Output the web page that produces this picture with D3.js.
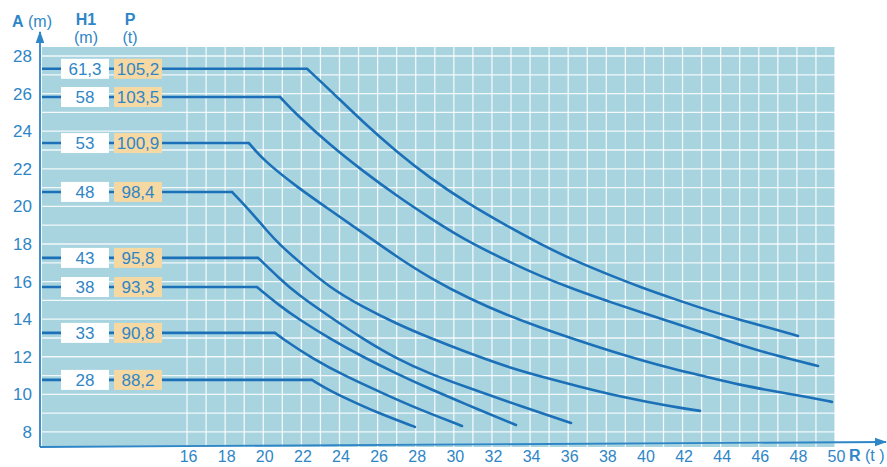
<!DOCTYPE html>
<html><head><meta charset="utf-8">
<script src="https://cdn.jsdelivr.net/npm/d3@7"></script>
<style>
body{margin:0;background:#fff}
svg{display:block}
text{font-family:"Liberation Sans",Arial,sans-serif}
</style>
</head><body>
<svg id="c" width="887" height="467"></svg>
<script>
// ---- data ----
const h1Labels = ["61,3", "58", "53", "48", "43", "38", "33", "28"];
const pLabels  = ["105,2", "103,5", "100,9", "98,4", "95,8", "93,3", "90,8", "88,2"];

// [R (t), A (m)] – first point = end of the flat part
const curve1 = [[22.30,27.32],[23.50,26.19],[25.23,24.49],[27.02,22.89],[28.75,21.51],[30.69,20.18],[32.79,18.96],[34.52,18.00],[36.25,17.15],[38.04,16.40],[39.77,15.71],[41.87,14.97],[43.28,14.49],[45.01,13.96],[46.75,13.48],[48.06,13.11]];
const curve2 = [[20.88,25.82],[21.77,24.86],[23.50,23.27],[25.23,21.88],[27.02,20.55],[28.75,19.38],[30.48,18.27],[32.79,17.10],[34.52,16.30],[36.25,15.61],[38.04,14.97],[39.77,14.38],[41.87,13.69],[43.28,13.21],[45.01,12.63],[46.75,12.10],[49.11,11.51]];
const curve3 = [[19.25,23.37],[19.99,22.47],[21.77,21.03],[23.50,19.81],[25.23,18.59],[27.02,17.31],[28.75,16.19],[30.85,15.07],[32.79,14.22],[34.52,13.56],[36.25,12.95],[38.04,12.36],[39.77,11.83],[41.50,11.35],[43.28,10.93],[45.01,10.50],[46.75,10.18],[48.53,9.86],[49.84,9.60]];
const curve4 = [[18.36,20.77],[19.31,19.76],[20.20,18.69],[20.88,17.95],[21.77,17.15],[23.50,15.66],[25.23,14.65],[27.02,13.74],[28.75,13.00],[30.48,12.31],[33.10,11.35],[34.89,10.87],[36.62,10.39],[38.35,9.97],[40.13,9.60],[41.87,9.28],[42.92,9.12]];
const curve5 = [[19.73,17.26],[20.88,16.14],[21.77,15.34],[23.50,14.12],[25.23,12.95],[27.02,11.88],[28.75,11.09],[30.48,10.45],[33.31,9.44],[36.15,8.48]];
const curve6 = [[19.67,15.71],[20.88,14.70],[21.77,14.06],[23.50,12.95],[25.23,11.99],[27.02,11.09],[28.75,10.29],[30.48,9.54],[33.26,8.37]];
const curve7 = [[20.62,13.27],[20.88,13.05],[22.61,11.88],[24.39,10.93],[26.13,10.13],[27.86,9.33],[30.43,8.32]];
const curve8 = [[22.56,10.77],[23.40,10.25],[24.39,9.76],[26.13,8.96],[27.96,8.27]];
const curves = [curve1, curve2, curve3, curve4, curve5, curve6, curve7, curve8];

const xTicks = d3.range(16, 51, 2);
const yTicks = d3.range(8, 29, 2);
const xGrid = d3.range(16, 51, 1);
const yGrid = d3.range(8, 29, 1);

// ---- layout ----
const blue = "#2f86c6", lineBlue = "#1b70b8", bg = "#a8d4e0", orange = "#f6d8a2";
const pL = 42, pR = 835, pT = 47, pB = 447;
const xMin = 8.39;
const x = d3.scaleLinear().domain([xMin, 50]).range([pL, pR]);
const y = d3.scaleLinear().domain([7.2, 28.48]).range([pB, pT]);

const svg = d3.select("#c");
const defs = svg.append("defs");
defs.append("marker").attr("id","arr").attr("viewBox","0 0 10 10").attr("refX",9).attr("refY",5)
  .attr("markerWidth",7).attr("markerHeight",7).attr("orient","auto")
  .append("path").attr("d","M0,1.5 L10,5 L0,8.5 Z").attr("fill",blue);

svg.append("rect").attr("x",pL).attr("y",pT).attr("width",pR-pL).attr("height",pB-pT).attr("fill",bg);

const g = svg.append("g");
g.selectAll(".hg").data(yGrid).join("line")
  .attr("x1",pL).attr("x2",pR).attr("y1",d=>y(d)).attr("y2",d=>y(d))
  .attr("stroke","#fff").attr("stroke-width",1.3).attr("opacity",0.85);
g.selectAll(".vg").data(xGrid).join("line")
  .attr("x1",d=>x(d)).attr("x2",d=>x(d)).attr("y1",pT).attr("y2",pB)
  .attr("stroke","#fff").attr("stroke-width",1.3).attr("opacity",0.85);

// curves
const curveLine = d3.line().x(d=>x(d[0])).y(d=>y(d[1])).curve(d3.curveBasis);
const flatLine = d3.line().x(d=>x(d[0])).y(d=>y(d[1]));
curves.forEach(c => {
  svg.append("path").attr("d", flatLine([[xMin, c[0][1]], c[0]]))
    .attr("fill","none").attr("stroke",lineBlue).attr("stroke-width",2.6);
  svg.append("path").attr("d", curveLine(c))
    .attr("fill","none").attr("stroke",lineBlue).attr("stroke-width",2.6).attr("stroke-linecap","round");
});

// label boxes
curves.forEach((c, i) => {
  const yy = y(c[0][1]);
  svg.append("rect").attr("x",61).attr("y",yy-10).attr("width",48).attr("height",20).attr("fill","#fff");
  svg.append("rect").attr("x",114).attr("y",yy-10).attr("width",48).attr("height",20).attr("fill",orange);
  svg.append("text").attr("x",85).attr("y",yy+6).attr("text-anchor","middle").attr("font-size",17).attr("fill",blue).text(h1Labels[i]);
  svg.append("text").attr("x",138).attr("y",yy+6).attr("text-anchor","middle").attr("font-size",17).attr("fill",blue).text(pLabels[i]);
});

// axes
const ay = svg.append("g").attr("transform",`translate(${pL},0)`)
  .call(d3.axisLeft(y).tickValues(yTicks).tickSize(0).tickPadding(10).tickFormat(d3.format("d")));
ay.select(".domain").remove();
ay.selectAll("text").attr("font-size",17).attr("fill",blue).attr("font-family","Liberation Sans, Arial, sans-serif");

const ax = svg.append("g").attr("transform",`translate(0,${pB})`)
  .call(d3.axisBottom(x).tickValues(xTicks).tickSize(0).tickPadding(4).tickFormat(d3.format("d")));
ax.select(".domain").remove();
ax.selectAll("text").attr("font-size",16).attr("fill",blue).attr("dx",1).attr("font-family","Liberation Sans, Arial, sans-serif");

svg.append("line").attr("x1",pL-2).attr("y1",pB).attr("x2",pL-2).attr("y2",32)
  .attr("stroke",blue).attr("stroke-width",1.8).attr("marker-end","url(#arr)");
svg.append("line").attr("x1",pL-2).attr("y1",pB).attr("x2",886).attr("y2",pB-5)
  .attr("stroke",blue).attr("stroke-width",1.8).attr("marker-end","url(#arr)");

// titles
const t1 = svg.append("text").attr("x",12).attr("y",27).attr("font-size",16).attr("fill",blue);
t1.append("tspan").attr("font-weight","bold").text("A");
t1.append("tspan").text(" (m)");
svg.append("text").attr("x",86).attr("y",25).attr("text-anchor","middle").attr("font-size",16).attr("font-weight","bold").attr("fill",blue).text("H1");
svg.append("text").attr("x",86).attr("y",43).attr("text-anchor","middle").attr("font-size",16).attr("fill",blue).text("(m)");
svg.append("text").attr("x",130).attr("y",25).attr("text-anchor","middle").attr("font-size",16).attr("font-weight","bold").attr("fill",blue).text("P");
svg.append("text").attr("x",130).attr("y",43).attr("text-anchor","middle").attr("font-size",16).attr("fill",blue).text("(t)");
const t2 = svg.append("text").attr("x",849).attr("y",461).attr("font-size",16).attr("fill",blue);
t2.append("tspan").attr("font-weight","bold").text("R");
t2.append("tspan").text(" (t )");
</script>
</body></html>
